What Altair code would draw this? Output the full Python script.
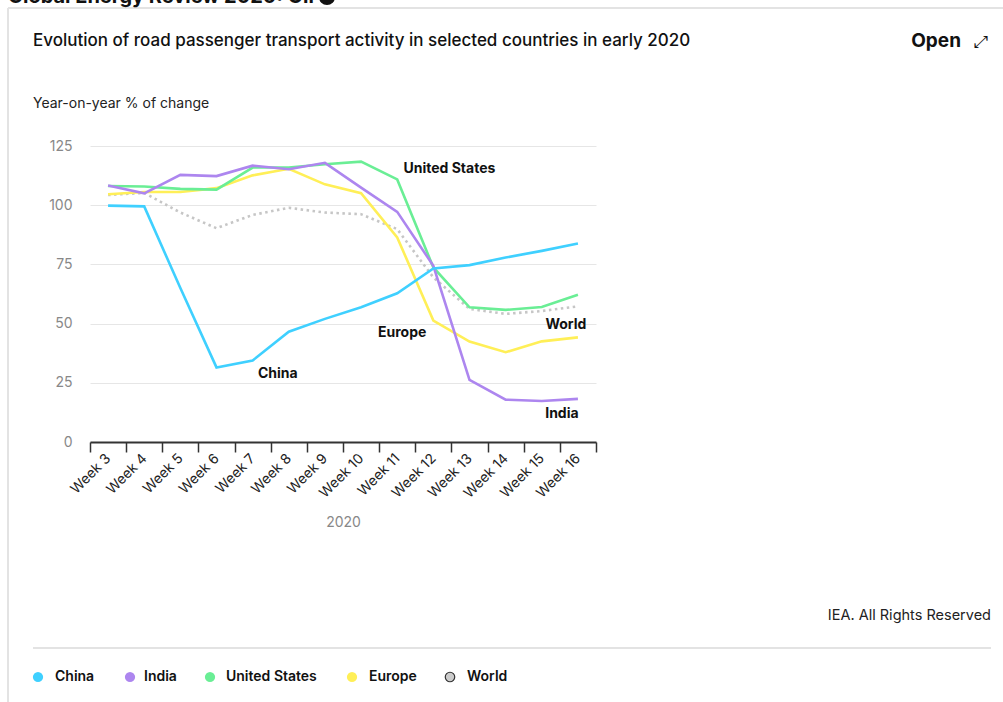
import altair as alt
import pandas as pd

weeks = ["Week 3", "Week 4", "Week 5", "Week 6", "Week 7", "Week 8", "Week 9",
         "Week 10", "Week 11", "Week 12", "Week 13", "Week 14", "Week 15", "Week 16"]
china = [99.8, 99.5, 65.0, 31.5, 34.4, 46.6, 52.0, 56.9, 62.8, 73.3, 74.7, 77.9, 80.7, 83.8]
india = [108.3, 105.0, 112.8, 112.3, 116.7, 115.2, 117.9, 107.4, 97.2, 74.4, 26.2, 17.9, 17.3, 18.2]
united_states = [108.1, 107.9, 106.9, 106.6, 115.9, 115.9, 117.3, 118.4, 110.9, 73.7, 56.9, 55.8, 57.0, 62.2]
europe = [104.6, 105.6, 105.6, 107.2, 112.6, 115.4, 108.8, 105.1, 86.4, 51.3, 42.4, 37.9, 42.5, 44.2]
world = [104.3, 105.2, 96.9, 90.3, 95.9, 98.9, 96.9, 96.2, 89.9, 69.5, 56.2, 54.1, 55.3, 57.3]

series_names = ["China", "India", "United States", "Europe", "World"]
series_colors = ["#3fd0ff", "#ad86ef", "#6aee95", "#ffef57", "#c6c6c6"]
series_values = [china, india, united_states, europe, world]

# in-chart labels: (text, anchor week, anchor value)
label_text = ["United States", "Europe", "World", "India", "China"]
label_week = ["Week 12", "Week 11", "Week 16", "Week 16", "Week 8"]
label_value = [115.3, 46.0, 49.4, 11.8, 28.7]
label_dx = [16, 5, -12, -16, -11]

FONT = "Inter"
W, H = 506, 296

rows = []
for name, vals in zip(series_names, series_values):
    for w, v in zip(weeks, vals):
        rows.append({"series": name, "week": w, "value": v})
df = pd.DataFrame(rows)

x_enc = alt.X(
    "week:N", sort=weeks,
    scale=alt.Scale(type="band", domain=weeks, paddingInner=0, paddingOuter=0),
    axis=alt.Axis(
        title="2020", labelAngle=-45, labelAlign="right", labelBaseline="middle",
        tickBand="extent", tickSize=10, tickColor="#333333", tickWidth=1.5,
        domainColor="#333333", domainWidth=2, labelFontSize=14, labelColor="#222222",
        labelPadding=4, labelFont=FONT, titleFont=FONT, titleFontSize=14,
        titleColor="#888888", titleFontWeight="normal", titleY=80,
        titleBaseline="middle", grid=False,
    ),
)
y_enc = alt.Y(
    "value:Q",
    scale=alt.Scale(domain=[0, 125], nice=False),
    axis=alt.Axis(
        values=[0, 25, 50, 75, 100, 125], labelFontSize=14, labelColor="#888888",
        labelFont=FONT, labelPadding=18, ticks=False, domain=False,
        gridColor="#e6e6e6", gridWidth=1, title=None,
    ),
)

layers = []
# draw order: World first, China last
for name in ["World", "Europe", "United States", "India", "China"]:
    idx = series_names.index(name)
    sub = df[df.series == name]
    props = dict(strokeWidth=2.6, color=series_colors[idx])
    if name == "World":
        props["strokeDash"] = [2.5, 3.5]
        props["strokeWidth"] = 2.6
    layers.append(alt.Chart(sub).mark_line(**props).encode(x=x_enc, y=y_enc))

for t, w, v, dx in zip(label_text, label_week, label_value, label_dx):
    ldf = pd.DataFrame({"week": [w], "value": [v], "label": [t]})
    layers.append(
        alt.Chart(ldf).mark_text(font=FONT, fontSize=14, fontWeight="bold",
                                 color="#111111", dx=dx, baseline="middle")
        .encode(x=alt.X("week:N", sort=weeks), y=alt.Y("value:Q"), text="label:N")
    )

one = alt.Data(values=[{"k": 1}])


def txt(text, x, y, size=14, weight="normal", align="left", color="#222222", font=FONT,
        baseline="middle"):
    return alt.Chart(one).mark_text(
        text=text, font=font, fontSize=size, fontWeight=weight, align=align,
        baseline=baseline, color=color,
    ).encode(x=alt.value(x), y=alt.value(y))


def rule(x, x2, y, y2, color="#e3e3e3", width=2):
    return alt.Chart(one).mark_rule(color=color, strokeWidth=width).encode(
        x=alt.value(x), x2=alt.value(x2), y=alt.value(y), y2=alt.value(y2))


OX, OY = 90, 146  # plot origin within the page

deco = [
    rule(8 - OX, 8 - OX, 8 - OY, 702 - OY),
    rule(8 - OX, 1003 - OX, 8 - OY, 8 - OY),
    txt("Global Energy Review 2020: Oil", 8 - OX, 3 - OY, size=20, weight="bold",
        color="#111111", baseline="alphabetic"),
    alt.Chart(one).mark_point(filled=True, size=260, color="#111111", shape="circle",
                              opacity=1).encode(x=alt.value(327 - OX), y=alt.value(-3 - OY)),
    txt("Evolution of road passenger transport activity in selected countries in early 2020",
        33 - OX, 41 - OY, size=17, weight=500, color="#111111"),
    txt("Open", 961 - OX, 41 - OY, size=19, weight="bold", align="right", color="#111111"),
    txt("⤢", 981 - OX, 42 - OY, size=17, align="center", color="#111111", font="DejaVu Sans"),
    txt("Year-on-year % of change", 33 - OX, 104 - OY, size=14),
    txt("IEA. All Rights Reserved", 991 - OX, 616 - OY, size=14.5, align="right"),
    rule(33 - OX, 991 - OX, 648 - OY, 648 - OY),
]

leg_circle_x = [38, 130, 210, 352, 450]
leg_text_x = [55, 144, 226, 369, 467]
LEG_Y = 677
for name, col, cx, tx in zip(series_names, series_colors, leg_circle_x, leg_text_x):
    if name == "World":
        mk = alt.Chart(one).mark_point(filled=True, size=90, fill="#cccccc", stroke="#333333",
                                       strokeWidth=1.2, shape="circle", opacity=1)
    else:
        mk = alt.Chart(one).mark_point(filled=True, size=105, color=col, shape="circle",
                                       opacity=1)
    deco.append(mk.encode(x=alt.value(cx - OX), y=alt.value(LEG_Y - OY)))
    deco.append(txt(name, tx - OX, LEG_Y - OY, size=14, weight=600, color="#111111"))

chart = alt.layer(*layers, *deco).properties(
    width=W, height=H,
    autosize=alt.AutoSizeParams(type="none"),
    padding={"left": OX, "top": OY, "right": 1003 - OX - W, "bottom": 702 - OY - H},
    background="white",
).configure_view(stroke=None)

chart.save("out.html", embed_options={"renderer": "svg", "actions": False})
